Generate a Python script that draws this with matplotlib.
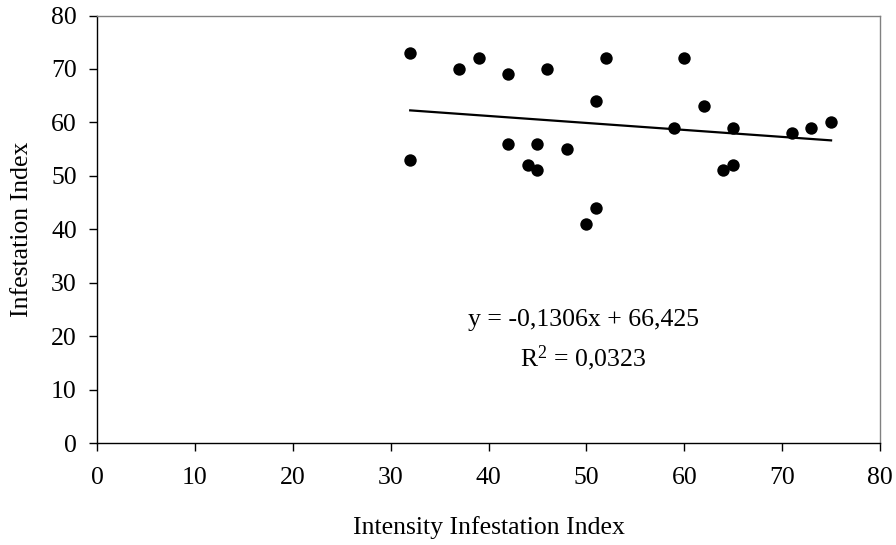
import matplotlib
matplotlib.use("Agg")
import matplotlib.pyplot as plt
import numpy as np

# Data
intensity = [32, 37, 39, 42, 46, 52, 51, 32, 42, 45, 48, 44, 45, 51, 50,
             60, 62, 59, 65, 71, 73, 75, 65, 64]
infestation = [73, 70, 72, 69, 70, 72, 64, 53, 56, 56, 55, 52, 51, 44, 41,
               72, 63, 59, 59, 58, 59, 60, 52, 51]
slope = -0.1306
intercept = 66.425
r2 = 0.0323
x_ticks = [0, 10, 20, 30, 40, 50, 60, 70, 80]
y_ticks = [0, 10, 20, 30, 40, 50, 60, 70, 80]

plt.rcParams['font.family'] = ['Liberation Serif', 'DejaVu Serif']
plt.rcParams['mathtext.default'] = 'regular'

FS = 18.5

fig = plt.figure(figsize=(8.96, 5.45), dpi=100)
ax = fig.add_axes([97/896, 1 - 443/545, (880-97)/896, (443-15.5)/545])

ax.scatter(intensity, infestation, s=80, color='black', zorder=3, linewidths=0)
xs = np.array([min(intensity), max(intensity)])
ax.plot(xs, slope * xs + intercept, color='black', linewidth=1.6, zorder=2)

ax.set_xlim(0, 80)
ax.set_ylim(0, 80)
ax.set_xticks(x_ticks)
ax.set_yticks(y_ticks)
ax.tick_params(direction='out', length=6, width=1, labelsize=FS, colors='black')
ax.tick_params(axis='x', pad=11)
ax.tick_params(axis='y', pad=8.5)

for s in ['left', 'bottom']:
    ax.spines[s].set_color('black')
    ax.spines[s].set_linewidth(1)
for s in ['top', 'right']:
    ax.spines[s].set_color('#808080')
    ax.spines[s].set_linewidth(1)

ax.set_xlabel('Intensity Infestation Index', fontsize=FS, labelpad=20)
ax.set_ylabel('Infestation Index', fontsize=FS, labelpad=13)

eq = 'y = ' + f'{slope:.4f}'.replace('.', ',') + 'x + ' + f'{intercept:.3f}'.replace('.', ',')
ax.text(49.7, 23, eq, fontsize=FS, ha='center', va='center')
ax.text(49.7, 15.8, r'R$^{2}$ = ' + f'{r2:.4f}'.replace('.', ','), fontsize=FS,
        ha='center', va='center')

fig.savefig('out.png', dpi=100)
